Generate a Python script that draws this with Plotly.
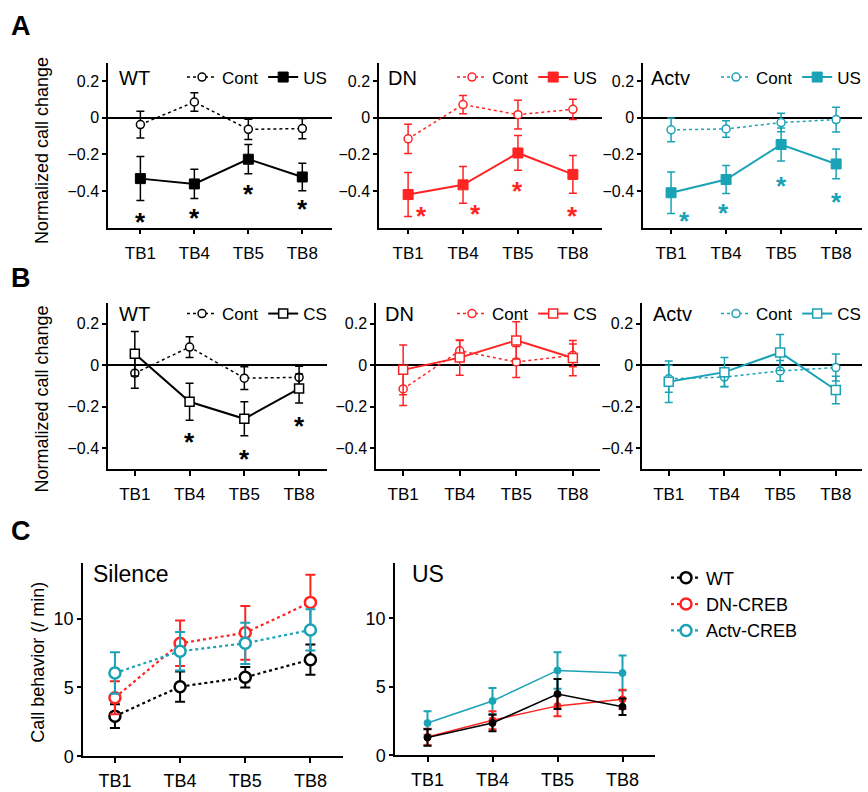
import plotly.graph_objects as go

# ---------------- data ----------------
tb_labels = ["TB1", "TB4", "TB5", "TB8"]
tb_x = [0, 1, 2, 3]

# Panel A (Cont vs US)
a_wt_cont = [-0.038, 0.085, -0.064, -0.060]
a_wt_cont_err = [0.073, 0.050, 0.055, 0.055]
a_wt_us = [-0.333, -0.362, -0.227, -0.324]
a_wt_us_err = [0.120, 0.080, 0.080, 0.075]
a_dn_cont = [-0.116, 0.071, 0.016, 0.045]
a_dn_cont_err = [0.080, 0.050, 0.078, 0.055]
a_dn_us = [-0.420, -0.367, -0.193, -0.310]
a_dn_us_err = [0.120, 0.100, 0.095, 0.103]
a_ac_cont = [-0.067, -0.062, -0.027, -0.011]
a_ac_cont_err = [0.065, 0.045, 0.050, 0.068]
a_ac_us = [-0.410, -0.338, -0.147, -0.253]
a_ac_us_err = [0.113, 0.076, 0.090, 0.081]

# Panel B (Cont vs CS)
b_wt_cont = [-0.038, 0.088, -0.062, -0.058]
b_wt_cont_err = [0.073, 0.050, 0.055, 0.053]
b_wt_cs = [0.056, -0.176, -0.258, -0.112]
b_wt_cs_err = [0.107, 0.089, 0.082, 0.070]
b_dn_cont = [-0.114, 0.070, 0.016, 0.048]
b_dn_cont_err = [0.080, 0.050, 0.075, 0.055]
b_dn_cs = [-0.022, 0.037, 0.120, 0.035]
b_dn_cs_err = [0.120, 0.085, 0.090, 0.085]
b_ac_cont = [-0.065, -0.057, -0.027, -0.011]
b_ac_cont_err = [0.065, 0.045, 0.050, 0.065]
b_ac_cs = [-0.079, -0.033, 0.062, -0.119]
b_ac_cs_err = [0.100, 0.070, 0.087, 0.066]

# Panel C (call behavior / min)
c_sil_wt = [2.91, 5.05, 5.73, 7.01]
c_sil_wt_err = [0.87, 1.10, 0.75, 1.10]
c_sil_dn = [4.25, 8.20, 8.96, 11.17]
c_sil_dn_err = [1.20, 1.65, 1.95, 2.00]
c_sil_ac = [6.04, 7.62, 8.20, 9.17]
c_sil_ac_err = [1.50, 1.40, 1.50, 1.50]
c_us_wt = [1.29, 2.35, 4.47, 3.54]
c_us_wt_err = [0.60, 0.60, 1.10, 0.60]
c_us_dn = [1.33, 2.55, 3.60, 4.08]
c_us_dn_err = [0.60, 0.65, 0.75, 0.70]
c_us_ac = [2.35, 3.96, 6.19, 6.00]
c_us_ac_err = [0.85, 0.95, 1.33, 1.28]

# significance asterisks (x position, y value)
ast_a_wt_x = [0, 1, 2, 3]
ast_a_wt_y = [-0.53, -0.51, -0.38, -0.46]
ast_a_dn_x = [0.24, 1.22, 2, 3]
ast_a_dn_y = [-0.50, -0.49, -0.36, -0.50]
ast_a_ac_x = [0.25, 0.96, 2, 3]
ast_a_ac_y = [-0.525, -0.485, -0.335, -0.42]
ast_b_wt_x = [1, 2, 3]
ast_b_wt_y = [-0.338, -0.418, -0.26]

# ---------------- styling / layout ----------------
W = 868
REF_H = 792          # height of the target picture (layout positions are given in it)
H = 797              # rendered figure height
BLACK = "#000000"
RED = "#ff2424"
TEAL = "#1aa2b6"
FONT = "Arial, Liberation Sans, sans-serif"


def fx(px):
    return px / W


def fy(py):
    return 1 - py / REF_H


# subplot geometry in target pixels: (x0, x1, y_top, y_bottom, xrange, yrange)
geo = {
    1: (108, 332, 63, 229, [-0.6, 3.55], [-0.6, 0.3]),
    2: (379, 602, 63, 229, [-0.53, 3.53], [-0.6, 0.3]),
    3: (643, 862, 63, 229, [-0.51, 3.47], [-0.6, 0.3]),
    4: (108, 327, 305, 472, [-0.49, 3.51], [-0.5, 0.3]),
    5: (376, 600, 305, 472, [-0.48, 3.48], [-0.5, 0.3]),
    6: (642, 862, 305, 472, [-0.48, 3.47], [-0.5, 0.3]),
    7: (83, 343, 567, 761, [-0.49, 3.5], [0, 14]),
    8: (395, 655, 567, 760, [-0.5, 3.5], [0, 14]),
}

fig = go.Figure()


def ax_name(i):
    return ("x" if i == 1 else f"x{i}"), ("y" if i == 1 else f"y{i}")


def add_series(i, y, err, color, dash, symbol, msize, mline, lwidth, name,
               legend, showlegend, mfill="white", errw=1.5, capw=4):
    xa, ya = ax_name(i)
    fig.add_trace(go.Scatter(
        x=tb_x, y=y, mode="lines+markers", name=name,
        xaxis=xa, yaxis=ya,
        line=dict(color=color, width=lwidth, dash=dash),
        marker=dict(symbol=symbol, size=msize, color=mfill,
                    line=dict(color=color, width=mline)),
        error_y=dict(type="data", array=err, visible=True, color=color,
                     thickness=errw, width=capw),
        legend=legend, showlegend=showlegend,
    ))


# Panel A
for i, (cont, cerr, us, uerr, col, lg) in zip(
        [1, 2, 3],
        [(a_wt_cont, a_wt_cont_err, a_wt_us, a_wt_us_err, BLACK, "legend"),
         (a_dn_cont, a_dn_cont_err, a_dn_us, a_dn_us_err, RED, "legend2"),
         (a_ac_cont, a_ac_cont_err, a_ac_us, a_ac_us_err, TEAL, "legend3")]):
    add_series(i, cont, cerr, col, "dot", "circle", 8, 1.5, 1.5, "Cont", lg, True)
    add_series(i, us, uerr, col, "solid", "square", 10, 1, 2, "US", lg, True, mfill=col)

# Panel B
for i, (cont, cerr, cs, cserr, col, lg) in zip(
        [4, 5, 6],
        [(b_wt_cont, b_wt_cont_err, b_wt_cs, b_wt_cs_err, BLACK, "legend4"),
         (b_dn_cont, b_dn_cont_err, b_dn_cs, b_dn_cs_err, RED, "legend5"),
         (b_ac_cont, b_ac_cont_err, b_ac_cs, b_ac_cs_err, TEAL, "legend6")]):
    add_series(i, cont, cerr, col, "dot", "circle", 8, 1.5, 1.5, "Cont", lg, True)
    add_series(i, cs, cserr, col, "solid", "square", 9, 1.5, 2, "CS", lg, True)

# Panel C
for y, e, col, nm in [(c_sil_wt, c_sil_wt_err, BLACK, "WT"),
                      (c_sil_dn, c_sil_dn_err, RED, "DN-CREB"),
                      (c_sil_ac, c_sil_ac_err, TEAL, "Actv-CREB")]:
    add_series(7, y, e, col, "dot", "circle", 11, 2.5, 2.2, nm, "legend7", True, errw=2, capw=5)
for y, e, col, nm in [(c_us_ac, c_us_ac_err, TEAL, "Actv-CREB"),
                      (c_us_dn, c_us_dn_err, RED, "DN-CREB"),
                      (c_us_wt, c_us_wt_err, BLACK, "WT")]:
    add_series(8, y, e, col, "solid", "circle", 7, 1, 1.5, nm, "legend7", False, mfill=col, errw=2, capw=4)

# axes
layout = dict(
    width=W, height=H, margin=dict(l=0, r=0, t=0, b=0),
    paper_bgcolor="white", plot_bgcolor="white",
    font=dict(family=FONT, color="black", size=16),
)
for i, (x0, x1, yt, yb, xr, yr) in geo.items():
    xk = "xaxis" if i == 1 else f"xaxis{i}"
    yk = "yaxis" if i == 1 else f"yaxis{i}"
    xa, ya = ax_name(i)
    big = i >= 7
    layout[xk] = dict(
        domain=[fx(x0), fx(x1)], anchor=ya, range=xr,
        tickvals=tb_x, ticktext=tb_labels, showgrid=False, zeroline=False,
        showline=True, linecolor="black", linewidth=1.5,
        ticks="outside", ticklen=5, tickwidth=1.5, tickcolor="black",
        ticklabelstandoff=2 if big else 4,
        tickfont=dict(size=18 if big else 17), fixedrange=True,
    )
    if big:
        tv, tt = [0, 5, 10], ["0", "5", "10"]
    else:
        tv, tt = [-0.4, -0.2, 0, 0.2], ["\u22120.4", "\u22120.2", "0", "0.2"]
    layout[yk] = dict(
        domain=[fy(yb), fy(yt)], anchor=xa, range=yr,
        tickvals=tv, ticktext=tt, showgrid=False,
        zeroline=not big, zerolinecolor="black", zerolinewidth=1.5,
        showline=True, linecolor="black", linewidth=1.5,
        ticks="outside", ticklen=4, tickwidth=1.5, tickcolor="black",
        tickfont=dict(size=18 if big else 16), fixedrange=True,
    )

# legends
leg_common = dict(orientation="h", bgcolor="rgba(0,0,0,0)", borderwidth=0,
                  font=dict(size=17, family=FONT), itemwidth=30,
                  xanchor="right", yanchor="middle", itemclick=False)
layout["legend"] = dict(leg_common, x=fx(332), y=fy(78))
layout["legend2"] = dict(leg_common, x=fx(602), y=fy(78))
layout["legend3"] = dict(leg_common, x=fx(866), y=fy(78))
layout["legend4"] = dict(leg_common, x=fx(332), y=fy(316))
layout["legend5"] = dict(leg_common, x=fx(602), y=fy(316))
layout["legend6"] = dict(leg_common, x=fx(866), y=fy(316))
layout["legend7"] = dict(orientation="v", bgcolor="rgba(0,0,0,0)", borderwidth=0,
                         font=dict(size=18, family=FONT), itemwidth=30,
                         xanchor="left", yanchor="top", x=fx(666), y=fy(563),
                         tracegroupgap=0)
fig.update_layout(**layout)

# annotations: panel letters, subplot titles, y titles, asterisks
ann = []
for txt, px, py in [("A", 21, 26), ("B", 21, 280), ("C", 21, 534)]:
    ann.append(dict(text=f"<b>{txt}</b>", x=fx(px), y=fy(py), xref="paper", yref="paper",
                    showarrow=False, font=dict(size=27, family=FONT), xanchor="center", yanchor="middle"))
for txt, px, py, sz in [("WT", 117, 78, 20), ("DN", 386, 78, 20), ("Actv", 649, 78, 20),
                        ("WT", 117, 316, 20), ("DN", 383, 316, 20), ("Actv", 651, 316, 20),
                        ("Silence", 91, 578, 23), ("US", 410, 578, 23)]:
    ann.append(dict(text=txt, x=fx(px), y=fy(py), xref="paper", yref="paper",
                    showarrow=False, font=dict(size=sz, family=FONT), xanchor="left", yanchor="middle"))
for txt, px, py in [("Normalized call change", 42, 152),
                    ("Normalized call change", 42, 402),
                    ("Call behavior (/ min)", 38, 667)]:
    ann.append(dict(text=txt, x=fx(px), y=fy(py), xref="paper", yref="paper", textangle=-90,
                    showarrow=False, font=dict(size=18, family=FONT), xanchor="center", yanchor="middle"))
for i, xs, ys, col in [(1, ast_a_wt_x, ast_a_wt_y, BLACK), (2, ast_a_dn_x, ast_a_dn_y, RED),
                       (3, ast_a_ac_x, ast_a_ac_y, TEAL), (4, ast_b_wt_x, ast_b_wt_y, BLACK)]:
    xa, ya = ax_name(i)
    for xv, yv in zip(xs, ys):
        ann.append(dict(text="<b>*</b>", x=xv, y=yv, xref=xa, yref=ya, showarrow=False,
                        font=dict(size=26, family=FONT, color=col), xanchor="center",
                        yanchor="middle", yshift=-7))
fig.update_layout(annotations=ann)

# remove the browser's default page margin so the figure starts at the window's corner
fig.write_html("out.html", config={"displayModeBar": False},
               post_script="document.body.style.margin='0';document.body.style.overflow='hidden';")
